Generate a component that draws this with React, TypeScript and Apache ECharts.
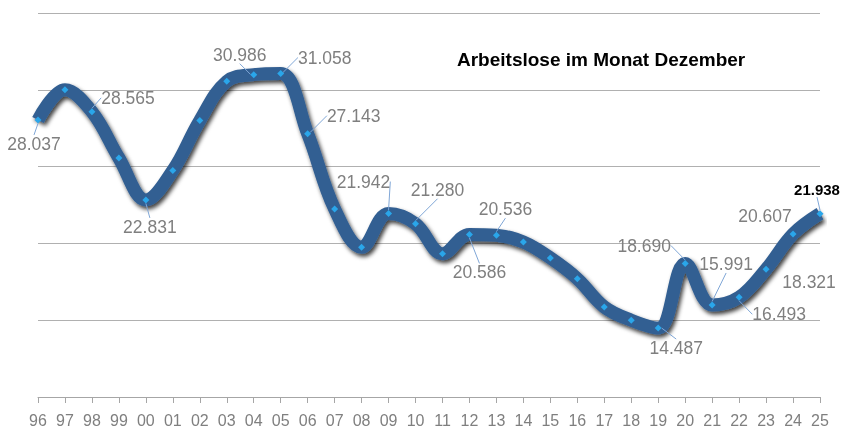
import React, { useEffect, useRef } from "react";
import * as echarts from "echarts";

const years = ["96","97","98","99","00","01","02","03","04","05","06","07","08","09","10","11","12","13","14","15","16","17","18","19","20","21","22","23","24","25"];
const values = [28.037, 30.0, 28.565, 25.56, 22.831, 24.75, 28.0, 30.55, 30.986, 31.058, 27.143, 22.24, 19.75, 21.942, 21.28, 19.33, 20.586, 20.536, 20.09, 19.05, 17.7, 15.86, 15.0, 14.487, 18.69, 15.991, 16.493, 18.321, 20.607, 21.938];
const labeledYears = ["96","98","00","04","05","06","09","10","12","13","19","20","21","22","23","24","25"];
const highlightYear = "25";
const noLeaderYears = ["23", "24"];
const titleText = "Arbeitslose im Monat Dezember";

// label layout offsets (pixels from point to label centre)
const labelOffsets: Record<string, [number, number]> = {
  "96": [-4, 24], "98": [36, -14], "00": [4, 27], "04": [-14, -20], "05": [44, -16],
  "06": [46, -18], "09": [-25, -32], "10": [22, -34], "12": [10, 38], "13": [9, -26],
  "19": [18, 20], "20": [-41, -18], "21": [14, -41], "22": [40, 17], "23": [43, 13],
  "24": [-28, -18], "25": [-3, -24],
};

const FONT = '"Liberation Sans", Arial, sans-serif';

export default function App() {
  const ref = useRef<HTMLDivElement>(null);
  useEffect(() => {
    if (!ref.current) return;
    const chart = echarts.init(ref.current, null, { renderer: "svg" });
    const data = values.map((v, i) => {
      const y = years[i];
      const labeled = labeledYears.includes(y);
      const hi = y === highlightYear;
      return {
        value: v,
        label: {
          show: labeled,
          position: "inside",
          formatter: v.toFixed(3),
          color: hi ? "#000000" : "#7f7f7f",
          fontWeight: hi ? "bold" : "normal",
          fontSize: hi ? 15 : 17.5,
          fontFamily: FONT,
        },
        labelLine: {
          show: labeled && !noLeaderYears.includes(y),
          lineStyle: { color: "#7fa6d6", width: 1 },
        },
      };
    });
    chart.setOption({
      animation: false,
      title: {
        text: titleText,
        left: 452,
        top: 45,
        textStyle: { fontFamily: FONT, fontWeight: "bold", fontSize: 19, color: "#000000" },
      },
      grid: { left: 38, right: 24, top: 13, bottom: 31, containLabel: false },
      xAxis: {
        type: "category",
        data: years,
        boundaryGap: false,
        axisLine: { lineStyle: { color: "#a6a6a6", width: 1 } },
        axisTick: { show: true, length: 6, lineStyle: { color: "#a6a6a6" } },
        axisLabel: { color: "#7f7f7f", fontSize: 16, fontFamily: FONT, margin: 15, interval: 0 },
      },
      yAxis: {
        type: "value",
        min: 10,
        max: 35,
        interval: 5,
        axisLabel: { show: false },
        axisLine: { show: false },
        axisTick: { show: false },
        splitLine: { lineStyle: { color: "#b0b0b0", width: 1 } },
      },
      series: [
        {
          type: "line",
          data,
          smooth: 0.38,
          symbol: "diamond",
          symbolSize: 7,
          showAllSymbol: true,
          itemStyle: { color: "#2aa6ea" },
          lineStyle: {
            color: "#335f92",
            width: 13,
            shadowColor: "rgba(0,0,0,0.75)",
            shadowBlur: 4,
            shadowOffsetX: 2,
            shadowOffsetY: 3,
          },
          emphasis: { disabled: true },
          labelLayout: (params: any) => {
            const y = years[params.dataIndex];
            const off = labelOffsets[y];
            if (!off) return {};
            return { dx: off[0], dy: off[1], hideOverlap: false };
          },
          z: 3,
        },
      ],
    });
    return () => chart.dispose();
  }, []);
  return <div ref={ref} style={{ position: "fixed", left: 0, top: 0, width: 844, height: 428 }} />;
}
